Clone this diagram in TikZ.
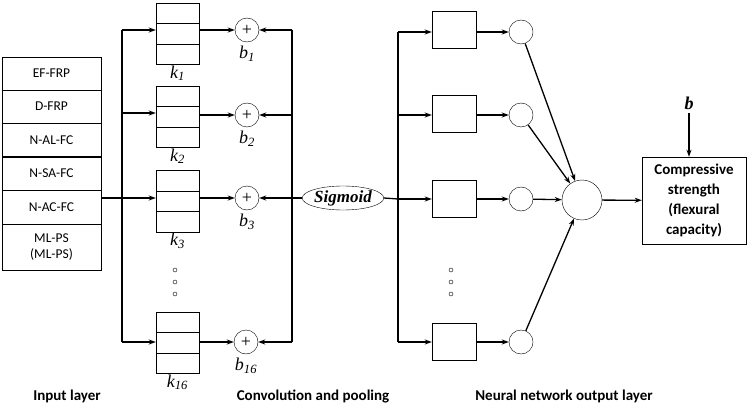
\documentclass[tikz,border=0pt]{standalone}
\usepackage{fontspec}
\setmainfont{Carlito}
\newfontfamily\tnr{Liberation Serif}
\usetikzlibrary{shapes.geometric, arrows.meta}
\begin{document}
\begin{tikzpicture}
  [
    x=1pt, y=-1pt,
    inbox/.style =
      {draw, minimum width=99pt, minimum height=33pt, inner sep=0pt, align=center, font=\fontsize{13.5}{16}\selectfont},
    cell/.style =
      {draw, minimum width=43pt, minimum height=20.5pt, inner sep=0pt},
    plus/.style =
      {draw, circle, minimum size=24pt, inner sep=0pt, font=\tnr\fontsize{18}{18}\selectfont},
    neuron/.style =
      {draw, circle, minimum size=24pt, inner sep=0pt},
    pool/.style =
      {draw, minimum width=44pt, minimum height=37pt, inner sep=0pt},
    var/.style =
      {inner sep=0pt, font=\tnr\itshape\fontsize{18}{18}\selectfont},
    title/.style =
      {font=\bfseries\fontsize{15}{17}\selectfont},
    arr/.style =
      {-{Stealth[length=7pt,width=5pt]}, line width=1.3pt},
    trunk/.style =
      {line width=1.3pt}
  ]
  \useasboundingbox (0,0) rectangle (749,409);

  % input layer
  \node [inbox] at (51.5, 73.5) (in1) {EF-FRP};
  \node [inbox] at (51.5,106.5) (in2) {D-FRP};
  \node [inbox] at (51.5,140)   (in3) {N-AL-FC};
  \node [inbox] at (51.5,173.5) (in4) {N-SA-FC};
  \node [inbox, minimum height=34pt] at (51.5,207) (in5) {N-AC-FC};
  \node [inbox, minimum height=46pt] at (51.5,247) (in6) {ML-PS\\(ML-PS)};

  % convolution kernels and bias sums
  \foreach \n/\y/\lab in {1/33.5/1, 2/116.5/2, 3/201/3, 4/342.5/16} {
    \node [cell] at (177.5,\y-20.5) (k\n a) {};
    \node [cell] at (177.5,\y)      (k\n b) {};
    \node [cell] at (177.5,\y+20.5) (k\n c) {};
    \node [var, below=1pt] at (k\n c.south) {k\textsubscript{\lab}};
  }
  \node [plus] at (247, 30)  (p1) {+};
  \node [plus] at (247,115)  (p2) {+};
  \node [plus] at (247,198)  (p3) {+};
  \node [plus] at (246,342)  (p4) {+};
  \foreach \n/\lab in {1/1, 2/2, 3/3, 4/16}
    \node [var, below=4pt] at (p\n.south) {b\textsubscript{\lab}};

  \coordinate (ti1) at (122, 30);
  \coordinate (ti2) at (122,113);
  \coordinate (ti3) at (122,198);
  \coordinate (ti4) at (122,342);
  \draw [trunk] (in5.east |- ti3) -- (ti3);
  \draw [trunk] (ti1) -- (ti4);
  \foreach \n in {1,2,3,4}
    \draw [arr] (ti\n) -- (k\n b.west |- ti\n);
  \foreach \n in {1,2,3,4}
    \draw [arr] (k\n b.east |- p\n) -- (p\n.west);

  \node [draw, ellipse, minimum width=74pt, minimum height=24pt, inner sep=0pt,
    font=\tnr\bfseries\itshape\fontsize{17}{17}\selectfont] at (343,198) (sig) {Sigmoid};
  \coordinate (ts1) at (292, 30);
  \coordinate (ts2) at (292,115);
  \coordinate (ts3) at (292,198);
  \coordinate (ts4) at (292,342);
  \draw [trunk] (sig.west) -- (ts3);
  \draw [trunk] (ts1) -- (ts4);
  \foreach \n in {1,2,3,4}
    \draw [arr] (ts\n) -- (p\n.east);

  % output layer
  \node [pool] at (454, 30)  (q1) {};
  \node [pool] at (454,114)  (q2) {};
  \node [pool] at (454,199)  (q3) {};
  \node [pool] at (454,342)  (q4) {};
  \node [neuron] at (521, 32)  (n1) {};
  \node [neuron] at (521,115)  (n2) {};
  \node [neuron] at (521,199)  (n3) {};
  \node [neuron] at (521,342)  (n4) {};
  \coordinate (to1) at (398, 32);
  \coordinate (to2) at (398,115);
  \coordinate (to3) at (398,199);
  \coordinate (to4) at (398,342);
  \draw [trunk] (sig.east) -- (to3);
  \draw [trunk] (to1) -- (to4);
  \foreach \n in {1,2,3,4} {
    \draw [arr] (to\n) -- (q\n.west |- to\n);
    \draw [arr] (q\n.east |- n\n) -- (n\n.west);
  }
  \node [draw, circle, minimum size=40pt, inner sep=0pt] at (582,200) (sum) {};
  \foreach \n in {1,2,3,4}
    \draw [arr] (n\n) -- (sum);

  \node [draw, minimum width=104pt, minimum height=87pt, align=center,
    font=\bfseries\fontsize{15}{20}\selectfont] at (694,200.5) (out)
    {Compressive\\strength\\(flexural\\capacity)};
  \draw [arr] (sum) -- (out);
  \node [font=\tnr\bfseries\itshape\fontsize{18}{18}\selectfont] at (689,103) (bb) {b};
  \draw [arr] (bb.south) -- (out.north -| bb);

  % ellipsis dots
  \foreach \x in {175, 451}
    \foreach \y in {270, 282, 294}
      \draw (\x,\y) circle (2pt);

  \node [title] at (67,396)  (t1) {Input layer};
  \node [title] at (313,396) (t2) {Convolution and pooling};
  \node [title] at (564,396) (t3) {Neural network output layer};
\end{tikzpicture}
\end{document}
